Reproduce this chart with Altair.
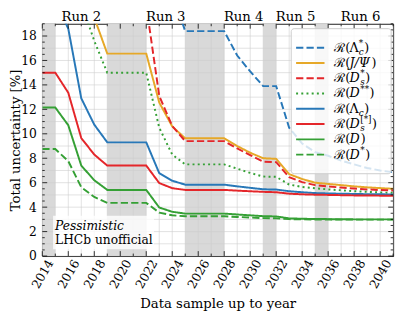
import altair as alt
import pandas as pd

# ---------------- data ----------------
series_names = ["Lc*", "J/Psi", "Ds*", "D**", "Lc", "Ds[*]", "D", "D*"]
series_start = {"Lc*": 2024, "J/Psi": 2018, "Ds*": 2022, "D**": 2017,
                "Lc": 2014, "Ds[*]": 2014, "D": 2014, "D*": 2014}
lcstar = [21.5, 18.4, 18.4, 18.4, 18.4, 16.4, 15.1, 13.9, 13.9, 10.5, 9.2, 8.5,
          8.2, 7.8, 7.5, 7.2, 7.0, 6.85]
jpsi = [19.5, 16.56, 16.56, 16.56, 16.56, 12.56, 10.6, 9.63, 9.63, 9.63, 9.63,
        9.0, 8.45, 8.0, 7.95, 6.7, 6.3, 6.0, 5.9, 5.8, 5.7, 5.62, 5.56, 5.5]
dsstar = [20.5, 13.1, 10.64, 9.4, 9.4, 9.4, 9.4, 8.8, 8.25, 7.72, 7.68, 6.45,
          6.05, 5.8, 5.7, 5.6, 5.52, 5.45, 5.4, 5.36]
dstarstar = [20.7, 17.6, 15.0, 15.0, 15.0, 15.0, 10.5, 8.3, 7.5, 7.5, 7.5, 7.5,
             7.15, 6.8, 6.5, 6.48, 5.85, 5.65, 5.55, 5.45, 5.38, 5.3, 5.25, 5.2, 5.17]
lc = [24.0, 20.9, 18.6, 12.9, 10.75, 9.3, 9.3, 9.3, 9.3, 6.78, 6.16, 5.84, 5.84,
      5.84, 5.84, 5.7, 5.58, 5.46, 5.44, 5.3, 5.22, 5.15, 5.12, 5.1, 5.08, 5.06,
      5.05, 5.04]
ds_any = [15.0, 15.0, 13.36, 9.65, 8.3, 7.4, 7.4, 7.4, 7.4, 5.97, 5.55, 5.41,
          5.41, 5.41, 5.41, 5.35, 5.3, 5.25, 5.22, 5.1, 5.05, 5.02, 5.0, 4.98,
          4.96, 4.95, 4.94, 4.93]
d = [12.15, 12.15, 10.7, 7.4, 6.2, 5.41, 5.41, 5.41, 5.41, 3.97, 3.62, 3.47,
     3.47, 3.47, 3.47, 3.4, 3.33, 3.26, 3.24, 3.08, 3.05, 3.03, 3.02, 3.01, 3.0,
     3.0, 3.0, 3.0]
dstar = [8.75, 8.75, 7.76, 5.63, 4.83, 4.35, 4.35, 4.35, 4.35, 3.55, 3.33, 3.25,
         3.25, 3.25, 3.25, 3.2, 3.15, 3.1, 3.08, 3.02, 3.0, 2.99, 2.99, 2.98,
         2.98, 2.98, 2.98, 2.98]
series_values = {"Lc*": lcstar, "J/Psi": jpsi, "Ds*": dsstar, "D**": dstarstar,
                 "Lc": lc, "Ds[*]": ds_any, "D": d, "D*": dstar}

# legend label pieces
legend_main = ["Λ", "J/Ψ", "D", "D", "Λ", "D", "D", "D"]
legend_sup = ["*", "", "*", "**", "", "[*]", "", "*"]
legend_sub = ["c", "", "s", "", "c", "s", "", ""]
legend_italic = [False, True, True, True, False, True, True, True]

shutdown_start = [2014, 2019, 2025, 2031, 2035]
shutdown_end = [2015, 2022, 2028, 2032, 2036]
run_names = ["Run 2", "Run 3", "Run 4", "Run 5", "Run 6"]
run_start = [2015, 2022, 2028, 2032, 2036]
run_end = [2019, 2025, 2031, 2035, 2041]

x_domain = [2014, 2041]
y_domain = [0, 19]
x_label_years = list(range(2014, 2041, 2))
y_label_vals = list(range(0, 19, 2))

# ---------------- styles ----------------
W, H = 358, 237
FONT = "DejaVu Serif"
colors = ["#2878b8", "#e6a828", "#e4262a", "#35a035",
          "#2878b8", "#e4262a", "#35a035", "#35a035"]
DASH, SOLID, DOT = [7.4, 3.2], [1, 0], [2, 3.3]
dashes = [DASH, SOLID, DASH, DOT, SOLID, SOLID, SOLID, DASH]

xs = alt.Scale(domain=x_domain, nice=False, zero=False)
ys = alt.Scale(domain=y_domain, nice=False, zero=False)
x_axis = alt.Axis(
    values=x_label_years, format="d", labelAngle=300, labelAlign="center",
    labelBaseline="middle", labelPadding=18, labelOverlap=False, labelFlush=False,
    ticks=False, tickSize=0, domain=False, grid=False, labelFontSize=12.5,
    labelColor="black", title="Data sample up to year", titleFontSize=13.5,
    titleFontWeight="normal", titleColor="black", titlePadding=6)
y_axis = alt.Axis(
    values=y_label_vals, labelPadding=6, ticks=False, tickSize=0, domain=False,
    grid=False, labelFontSize=12.5, labelColor="black", labelOverlap=False,
    labelFlush=False, title="Total uncertainty [%]", titleFontSize=13.5,
    titleFontWeight="normal", titleColor="black", titleX=-27, titleY=H / 2,
    titleBaseline="middle", titleAlign="center", titleAngle=270)
color_enc = alt.Color("series:N", scale=alt.Scale(domain=series_names, range=colors), legend=None)
dash_enc = alt.StrokeDash("series:N", scale=alt.Scale(domain=series_names, range=dashes), legend=None)

def X(f):
    return alt.X(f, scale=xs, axis=x_axis, title="Data sample up to year")

def Y(f):
    return alt.Y(f, scale=ys, axis=y_axis, title="Total uncertainty [%]")

rows = []
for name in series_names:
    for i, v in enumerate(series_values[name]):
        rows.append({"series": name, "year": series_start[name] + i, "value": v})
df = pd.DataFrame(rows)

one = pd.DataFrame({"k": [0]})

bands = alt.Chart(pd.DataFrame({"s": shutdown_start, "e": shutdown_end})).mark_rect(
    color="#d9d9d9").encode(x=X("s:Q"), x2="e:Q", y=alt.value(0), y2=alt.value(H))

gx = alt.Chart(pd.DataFrame({"x": list(range(2014, 2042))})).mark_rule(
    color="#cdcdcd", strokeWidth=0.6).encode(x=X("x:Q"))
gy = alt.Chart(pd.DataFrame({"y": list(range(0, 20))})).mark_rule(
    color="#cdcdcd", strokeWidth=0.6).encode(y=Y("y:Q"))

lines = alt.Chart(df).mark_line(clip=True, strokeWidth=2).encode(
    x=X("year:Q"), y=Y("value:Q"), color=color_enc, strokeDash=dash_enc)

def xticks(vals, length):
    base = alt.Chart(pd.DataFrame({"x": vals})).mark_rule(color="black", strokeWidth=0.8)
    return [base.encode(x=X("x:Q"), y=alt.value(H), y2=alt.value(H - length)),
            base.encode(x=X("x:Q"), y=alt.value(0), y2=alt.value(length))]

def yticks(vals, length):
    base = alt.Chart(pd.DataFrame({"y": vals})).mark_rule(color="black", strokeWidth=0.8)
    return [base.encode(y=Y("y:Q"), x=alt.value(0), x2=alt.value(length)),
            base.encode(y=Y("y:Q"), x=alt.value(W), x2=alt.value(W - length))]

tick_layers = []
tick_layers += xticks(list(range(2014, 2042, 2)), 5)
tick_layers += xticks(list(range(2015, 2042, 2)), 2.5)
tick_layers += yticks(list(range(0, 20, 2)), 5)
tick_layers += yticks([v / 2 for v in range(0, 39) if v % 4 != 0], 2.5)

runs = alt.Chart(pd.DataFrame({"name": run_names, "s": run_start, "e": run_end})).transform_calculate(
    c="(datum.s + datum.e) / 2").mark_text(fontSize=13.5, baseline="alphabetic", color="black").encode(
    x=X("c:Q"), y=alt.value(-3), text="name:N")

ann_box = alt.Chart(one).mark_rect(fill="white", opacity=0.8).encode(
    x=alt.value(11), x2=alt.value(114), y=alt.value(196), y2=alt.value(230))
ann1 = alt.Chart(one).mark_text(text="Pessimistic", fontStyle="italic", fontSize=12.5,
                                align="left", baseline="alphabetic", color="black").encode(
    x=alt.value(13), y=alt.value(210))
ann2 = alt.Chart(one).mark_text(text="LHCb unofficial", fontSize=12.5,
                                align="left", baseline="alphabetic", color="black").encode(
    x=alt.value(13), y=alt.value(225))

main = alt.layer(bands, gx, gy, lines, *tick_layers, runs, ann_box, ann1, ann2)

# ---------------- legend ----------------
W_EM = {"ℛ": 0.80, "(": 0.39, ")": 0.39, "Λ": 0.73, "D": 0.77, "J": 0.47, "/": 0.34,
        "Ψ": 0.80, "*": 0.50, "[": 0.39, "]": 0.39, "c": 0.56, "s": 0.51}
def tw(s, size):
    return sum(W_EM.get(ch, 0.6) for ch in s) * size

FS, SS = 13, 9
X0 = 298
leg_rows = []
for i, name in enumerate(series_names):
    xm = X0 + tw("ℛ(", FS)
    xsc = xm + tw(legend_main[i], FS) + (1 if legend_italic[i] else 0)
    xc = xsc + max(tw(legend_sup[i], SS), tw(legend_sub[i], SS)) + 0.5
    leg_rows.append({"series": name, "main": legend_main[i], "sup": legend_sup[i],
                     "sub": legend_sub[i], "ital": legend_italic[i],
                     "xm": xm, "xs": xsc, "xc": xc})
leg_df = pd.DataFrame(leg_rows)

ly = alt.Y("series:N", sort=series_names,
           scale=alt.Scale(domain=series_names, range=[16.7, 141.3], padding=0), axis=None)

leg_box = alt.Chart(one).mark_rect(fill="white", fillOpacity=0.8, stroke="#cccccc",
                                   strokeWidth=1, cornerRadius=3).encode(
    x=alt.value(254), x2=alt.value(356), y=alt.value(5), y2=alt.value(153))
leg_sym = alt.Chart(leg_df).mark_rule(strokeWidth=2).encode(
    x=alt.value(259), x2=alt.value(288), y=ly, color=color_enc, strokeDash=dash_enc)
tbase = alt.Chart(leg_df)
t_pre = tbase.mark_text(text="ℛ(", fontSize=FS, align="left", baseline="middle", color="black").encode(
    x=alt.value(X0), y=ly)
t_main_i = tbase.transform_filter("datum.ital").mark_text(
    fontSize=FS, fontStyle="italic", align="left", baseline="middle", color="black").encode(
    x=alt.X("xm:Q", scale=None, axis=None), y=ly, text="main:N")
t_main_u = tbase.transform_filter("!datum.ital").mark_text(
    fontSize=FS, align="left", baseline="middle", color="black").encode(
    x=alt.X("xm:Q", scale=None, axis=None), y=ly, text="main:N")
t_sup = tbase.mark_text(fontSize=SS, align="left", baseline="middle", dy=-5, color="black").encode(
    x=alt.X("xs:Q", scale=None, axis=None), y=ly, text="sup:N")
t_sub = tbase.mark_text(fontSize=SS, fontStyle="italic", align="left", baseline="middle", dy=4, color="black").encode(
    x=alt.X("xs:Q", scale=None, axis=None), y=ly, text="sub:N")
t_close = tbase.mark_text(text=")", fontSize=FS, align="left", baseline="middle", color="black").encode(
    x=alt.X("xc:Q", scale=None, axis=None), y=ly)

legend = alt.layer(leg_box, leg_sym, t_pre, t_main_i, t_main_u, t_sup, t_sub, t_close)

chart = alt.layer(main, legend).resolve_scale(y="independent").resolve_axis(
    x="independent", y="independent").properties(
    width=W, height=H,
    autosize=alt.AutoSizeParams(type="none"),
    padding={"left": 35, "top": 13, "right": 6, "bottom": 54},
).configure(font=FONT).configure_axis(labelOverlap=False).configure_view(stroke="black", strokeWidth=1)

chart.save("out.html", embed_options={"renderer": "svg", "actions": False})
